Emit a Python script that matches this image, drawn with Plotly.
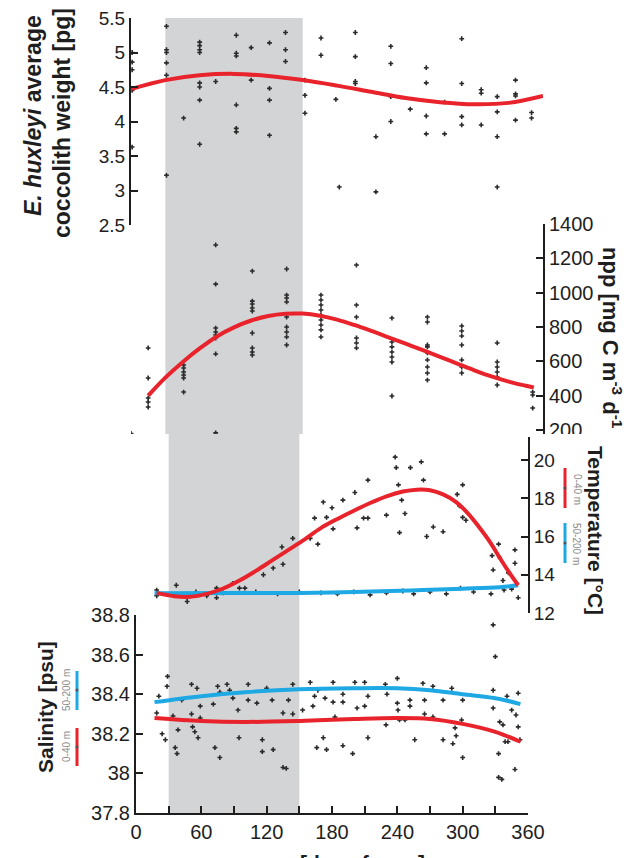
import plotly.graph_objects as go

# ---------------- data ----------------
# Coccolith weight observations (day of year, pg)
cocco_day = [1, 1, 1, 1, 1,
             31, 31, 31, 31, 31, 31,
             46,
             60, 60, 60, 60, 60, 60, 60, 60,
             74,
             92, 92, 92, 92, 92, 92,
             105, 105,
             121, 121, 121, 121,
             135, 135, 135,
             152, 152, 152,
             166, 166,
             179, 182,
             196, 196, 196, 196,
             214, 214,
             227, 227, 227, 227,
             244,
             258, 258, 258, 258,
             274, 274,
             289, 289, 289, 289,
             306, 306, 306,
             320, 320, 320, 320,
             336, 336, 336, 336,
             350, 350]
cocco_val = [5.0, 4.86, 4.75, 4.45, 3.63,
             5.38, 5.04, 5.0, 4.85, 4.67, 3.22,
             4.05,
             5.15, 5.1, 5.04, 5.0, 4.56, 4.5, 4.31, 3.67,
             4.58,
             5.25, 4.99, 4.95, 4.24, 3.9, 3.85,
             5.07, 4.6,
             5.14, 4.48, 4.31, 3.8,
             5.29, 5.04, 4.87,
             4.6, 4.38, 4.12,
             5.21, 4.96,
             4.32, 3.05,
             5.29, 4.94, 4.58, 4.55,
             3.78, 2.98,
             5.09, 4.84, 4.36, 4.0,
             4.18,
             4.78, 4.56, 4.08, 3.82,
             4.28, 3.82,
             5.2, 4.55, 4.07, 3.95,
             4.46, 4.41, 3.95,
             4.36, 4.14, 3.78, 3.05,
             4.6, 4.4, 4.37, 4.02,
             4.13, 4.05]
cocco_fit_day = [0, 30, 60, 90, 120, 150, 180, 210, 240, 270, 300, 330, 360]
cocco_fit_val = [4.47, 4.6, 4.67, 4.69, 4.66, 4.6, 4.52, 4.43, 4.34, 4.28, 4.25, 4.27, 4.37]

# Net primary production (mg C m-3 d-1)
npp_day = [0,
           15, 15, 15, 15, 15,
           46, 46, 46, 46, 46, 46,
           74, 74, 74, 74, 74, 74, 74, 74,
           106, 106, 106, 106, 106, 106, 106, 106, 106,
           136, 136, 136, 136, 136, 136, 136, 136, 136,
           166, 166, 166, 166, 166, 166, 166, 166, 166,
           197, 197, 197, 197, 197, 197,
           228, 228, 228, 228, 228, 228, 228,
           259, 259, 259, 259, 259, 259, 259, 259, 259,
           289, 289, 289, 289, 289, 289, 289,
           320, 320, 320, 320, 320, 320,
           351, 351, 351]
npp_val = [180,
           678, 503, 386, 363, 334,
           579, 561, 538, 520, 503, 421,
           1278, 1050, 794, 771, 753, 736, 643, 183,
           1126, 951, 934, 911, 893, 765, 678, 654, 637,
           1138, 986, 969, 946, 858, 800, 771, 742, 695,
           986, 957, 928, 899, 870, 841, 812, 783, 742,
           1161, 928, 858, 736, 707, 678,
           852, 713, 684, 654, 625, 596, 398,
           858, 829, 695, 684, 649, 608, 567, 532, 491,
           806, 777, 748, 695, 608, 567, 532,
           707, 596, 567, 538, 509, 462,
           421, 404, 328]
npp_fit_day = [15, 30, 45, 60, 75, 90, 105, 120, 135, 150, 165, 180, 195, 210,
               225, 240, 255, 270, 285, 300, 315, 330, 345, 352]
npp_fit_val = [400, 505, 595, 675, 745, 798, 838, 864, 877, 878, 866, 843, 812, 777,
               740, 703, 665, 626, 587, 548, 512, 482, 458, 448]

# Temperature (deg C)
temp_day = [19, 19, 37, 47, 74, 74, 89, 95, 100, 117, 126, 134, 135, 144,
            160, 167, 164, 172, 175, 180, 181, 190, 201, 203, 209, 213, 213,
            230, 238, 239, 241, 244, 247, 242, 252, 262, 264, 267, 273, 282,
            295, 300, 297, 300, 303, 327, 328, 333, 334, 337, 342, 348, 348,
            351, 330,
            55, 65, 80, 110, 130, 150, 170, 185, 200, 215, 230, 245, 255, 270,
            285, 298, 310, 326, 338, 345]
temp_val = [13.2, 12.9, 13.45, 12.6, 13.3, 12.8, 13.55, 13.3, 13.3, 14.0, 14.35, 15.45, 14.55, 15.9,
            15.9, 15.6, 16.96, 17.8, 17.0, 17.5, 16.4, 17.9, 18.3, 16.45, 16.96, 16.96, 18.95,
            17.12, 20.15, 19.6, 18.7, 17.9, 17.2, 16.2, 19.6, 19.9, 18.95, 16.0, 16.5, 16.25,
            18.2, 18.7, 17.6, 17.0, 16.85, 15.0, 14.25, 15.6, 14.9, 13.7, 14.1, 15.3, 14.6,
            12.8, 11.45,
            13.1, 12.9, 13.05, 13.1, 13.0, 13.1, 13.05, 13.0, 13.1, 12.95, 13.05, 13.15, 13.0, 13.1,
            13.0, 13.3, 13.1, 13.0, 13.2, 13.25]
temp_surf_day = [19, 35, 50, 65, 80, 95, 110, 125, 140, 155, 170, 185, 200, 215, 230,
                 245, 258, 270, 282, 294, 305, 315, 325, 335, 343, 351]
temp_surf_val = [13.05, 12.88, 12.85, 13.0, 13.28, 13.7, 14.2, 14.75, 15.3, 15.85, 16.45,
                 16.92, 17.35, 17.75, 18.1, 18.35, 18.45, 18.42, 18.2, 17.8, 17.2, 16.5,
                 15.72, 14.8, 14.1, 13.45]
temp_deep_day = [17, 90, 151, 200, 252, 300, 334, 351]
temp_deep_val = [13.03, 13.04, 13.05, 13.1, 13.18, 13.27, 13.35, 13.45]

# Salinity (psu)
sal_day = [19, 21, 24, 27, 28.5, 29, 34, 36, 37.7, 38.6, 42, 51, 51, 52, 54, 56, 57, 59, 59,
           71, 72.5, 75, 77, 77, 83.6, 86, 89, 93.7, 94.6, 103, 103, 111, 116, 116, 120, 125,
           126, 135, 138, 135, 140, 144, 144, 153, 160, 162.5, 166, 164,
           167, 172, 175, 173.6, 181, 182.7, 181, 190, 190, 190, 199, 201, 203, 210, 210, 213,
           213, 229, 229.6, 230.5, 240, 240, 240.6, 242, 247, 251.6, 251.6, 256, 263.5, 265, 265,
           272.7, 272.7, 282, 282, 290, 291, 293, 294, 300, 300, 299,
           328, 330, 328, 328, 333, 333, 336, 334, 337, 339, 341.6, 340.7, 345, 348, 349, 351,
           351, 352.6]
sal_val = [38.305, 38.39, 38.20, 38.17, 38.44, 38.49, 38.29, 38.13, 38.10, 38.22, 38.37, 38.45,
           38.30, 38.235, 38.21, 38.43, 38.18, 38.28, 38.34,
           38.35, 38.13, 38.44, 38.08, 38.41, 38.45, 38.42, 38.38, 38.32, 38.18, 38.45, 38.37,
           38.355, 38.17, 38.11, 38.43, 38.37, 38.12, 38.03, 38.025, 38.305, 38.37, 38.30, 38.45,
           38.32, 38.46, 38.34, 38.13, 38.39,
           38.42, 38.18, 38.12, 38.38, 38.46, 38.285, 38.36, 38.40, 38.36, 38.14, 38.10, 38.46,
           38.33, 38.46, 38.34, 38.18, 38.39, 38.45, 38.245, 38.40, 38.48, 38.355, 38.32, 38.27,
           38.27, 38.37, 38.34, 38.17, 38.455, 38.37, 38.30, 38.44, 38.285, 38.37, 38.17, 38.43,
           38.15, 38.23, 38.19, 38.37, 38.08, 38.27,
           38.75, 38.59, 38.42, 38.33, 38.10, 37.98, 37.97, 38.26, 38.245, 38.16, 38.16, 38.39,
           38.32, 38.02, 38.295, 38.405, 38.235, 38.17]
sal_surf_day = [17, 60, 100, 150, 200, 240, 270, 300, 330, 353]
sal_surf_val = [38.28, 38.265, 38.26, 38.265, 38.275, 38.28, 38.275, 38.25, 38.21, 38.16]
sal_deep_day = [17, 60, 100, 150, 200, 240, 270, 300, 330, 353]
sal_deep_val = [38.36, 38.39, 38.41, 38.425, 38.43, 38.43, 38.42, 38.40, 38.38, 38.35]

x_ticks = list(range(0, 361, 30))
x_labels = [str(v) if v % 60 == 0 else "" for v in x_ticks]
cocco_ticks = [2.5, 3, 3.5, 4, 4.5, 5, 5.5]
cocco_labels = ["2.5", "3", "3.5", "4", "4.5", "5", "5.5"]
npp_ticks = [200, 400, 600, 800, 1000, 1200, 1400]
temp_ticks = [12, 14, 16, 18, 20]
sal_ticks = [37.8, 38.0, 38.2, 38.4, 38.6, 38.8]
sal_labels = ["37.8", "38", "38.2", "38.4", "38.6", "38.8"]

# ---------------- styling helpers ----------------
W, H = 641, 858
RED = "#e8232b"
BLUE = "#1ea8e4"
INK = "#1e1e1e"
BAND = "#d3d4d6"
FONT = "Liberation Sans, Arial, Helvetica, sans-serif"


def fx(px):
    return px / W


def fy(py):
    return 1 - py / H


dots = dict(symbol="cross", size=4, color="#2a2a2a", line=dict(width=0))
fit = dict(width=4, shape="spline", smoothing=1)

fig = go.Figure()

# upper block: coccolith weight + npp
fig.add_trace(go.Scatter(x=cocco_day, y=cocco_val, mode="markers", marker=dots,
                         xaxis="x", yaxis="y", showlegend=False))
fig.add_trace(go.Scatter(x=cocco_fit_day, y=cocco_fit_val, mode="lines",
                         line=dict(color=RED, **fit), xaxis="x", yaxis="y", showlegend=False))
fig.add_trace(go.Scatter(x=npp_day, y=npp_val, mode="markers", marker=dots,
                         xaxis="x", yaxis="y2", showlegend=False))
fig.add_trace(go.Scatter(x=npp_fit_day, y=npp_fit_val, mode="lines",
                         line=dict(color=RED, **fit), xaxis="x", yaxis="y2", showlegend=False))

# lower block: temperature + salinity
fig.add_trace(go.Scatter(x=temp_day, y=temp_val, mode="markers", marker=dots,
                         cliponaxis=False, xaxis="x2", yaxis="y3", showlegend=False))
fig.add_trace(go.Scatter(x=temp_deep_day, y=temp_deep_val, mode="lines",
                         line=dict(color=BLUE, **fit), xaxis="x2", yaxis="y3", showlegend=False))
fig.add_trace(go.Scatter(x=temp_surf_day, y=temp_surf_val, mode="lines",
                         line=dict(color=RED, **fit), xaxis="x2", yaxis="y3", showlegend=False))
fig.add_trace(go.Scatter(x=sal_day, y=sal_val, mode="markers", marker=dots,
                         xaxis="x2", yaxis="y4", showlegend=False))
fig.add_trace(go.Scatter(x=sal_deep_day, y=sal_deep_val, mode="lines",
                         line=dict(color=BLUE, **fit), xaxis="x2", yaxis="y4", showlegend=False))
fig.add_trace(go.Scatter(x=sal_surf_day, y=sal_surf_val, mode="lines",
                         line=dict(color=RED, **fit), xaxis="x2", yaxis="y4", showlegend=False))


def axis(size=19, **kw):
    base = dict(showgrid=False, zeroline=False, showline=True, linecolor=INK, linewidth=2,
                ticks="inside", ticklen=7, tickwidth=2, tickcolor=INK, automargin=False,
                tickmode="array", tickfont=dict(family=FONT, size=size, color=INK))
    base.update(kw)
    return base


npp_bottom = 200 - (434 - 430) * 1200 / 206
temp_top = 12 + (613 - 437) / ((613 - 460) / 8)

fig.update_layout(
    width=W, height=H,
    margin=dict(l=0, r=0, t=0, b=0, pad=0),
    paper_bgcolor="white", plot_bgcolor="rgba(0,0,0,0)",
    xaxis=dict(domain=[fx(131), fx(543)], range=[0, 360], visible=False, anchor="y",
               automargin=False),
    yaxis=axis(domain=[fy(225), fy(18)], range=[2.5, 5.5], anchor="x", side="left",
               tickvals=cocco_ticks, ticktext=cocco_labels),
    yaxis2=axis(20, domain=[fy(434), fy(224)], range=[npp_bottom, 1400], anchor="x",
                side="right", tickvals=npp_ticks),
    xaxis2=axis(20, domain=[fx(136), fx(528)], range=[0, 360], anchor="y4",
                tickvals=x_ticks, ticktext=x_labels),
    yaxis3=axis(domain=[fy(613), fy(437)], range=[12, temp_top], anchor="x2", side="right",
                tickvals=temp_ticks),
    yaxis4=axis(20, domain=[fy(813), fy(615)], range=[37.8, 38.8], anchor="x2", side="left",
                tickvals=sal_ticks, ticktext=sal_labels),
)

shapes = [
    # shaded season in both blocks
    dict(type="rect", xref="x", yref="paper", x0=30, x1=150, y0=fy(434), y1=fy(18),
         fillcolor=BAND, line=dict(width=0), layer="below"),
    dict(type="rect", xref="x2", yref="paper", x0=30, x1=150, y0=fy(813), y1=fy(434),
         fillcolor=BAND, line=dict(width=0), layer="below"),
    # edge of the upper block trimming the lowest npp label
    dict(type="rect", xref="paper", yref="paper", x0=fx(536), x1=1, y0=fy(442), y1=fy(434),
         fillcolor="white", line=dict(width=0), layer="above"),
    # depth keys: temperature
    dict(type="line", xref="paper", yref="paper", x0=fx(565), x1=fx(565), y0=fy(468), y1=fy(508),
         line=dict(color=RED, width=3)),
    dict(type="line", xref="paper", yref="paper", x0=fx(565), x1=fx(565), y0=fy(523), y1=fy(563),
         line=dict(color=BLUE, width=3)),
    # depth keys: salinity
    dict(type="line", xref="paper", yref="paper", x0=fx(77), x1=fx(77), y0=fy(671), y1=fy(710),
         line=dict(color=BLUE, width=3)),
    dict(type="line", xref="paper", yref="paper", x0=fx(77), x1=fx(77), y0=fy(728), y1=fy(766),
         line=dict(color=RED, width=3)),
]
for cx, cy in [(565, 488), (565, 543), (77, 690), (77, 747)]:
    shapes.append(dict(type="circle", xref="paper", yref="paper",
                       x0=fx(cx - 1.5), x1=fx(cx + 1.5), y0=fy(cy + 1.5), y1=fy(cy - 1.5),
                       fillcolor="#555", line=dict(width=0)))
fig.update_layout(shapes=shapes)

title_font = dict(family=FONT, size=21, color=INK)
small_font = dict(family=FONT, size=10, color="#8a8a8a")


def note(text, px, py, angle=0, font=title_font, yanchor="middle"):
    fig.add_annotation(text=text, x=fx(px), y=fy(py), xref="paper", yref="paper",
                       xanchor="center", yanchor=yanchor, showarrow=False,
                       textangle=angle, font=font)


note("<b><i>E. huxleyi</i> average</b>", 33, 116, -90, dict(family=FONT, size=23, color=INK))
note("<b>coccolith weight [pg]</b>", 62, 123, -90, dict(family=FONT, size=23, color=INK))
note("<b>npp [mg C m<sup>-3</sup> d<sup>-1</sup></b>", 612, 338, 90,
     dict(family=FONT, size=22, color=INK))
note("<b>Temperature [°C]</b>", 596, 530, 90)
note("0-40 m", 577, 489, 90, small_font)
note("50-200 m", 577, 544, 90, small_font)
note("<b>Salinity [psu]</b>", 45, 707, -90)
note("0-40 m", 66, 747, -90, small_font)
note("50-200 m", 66, 690, -90, small_font)
note("<b>[day of year]</b>", 362, 849, 0, title_font, yanchor="top")

fig.write_html("out.html")
